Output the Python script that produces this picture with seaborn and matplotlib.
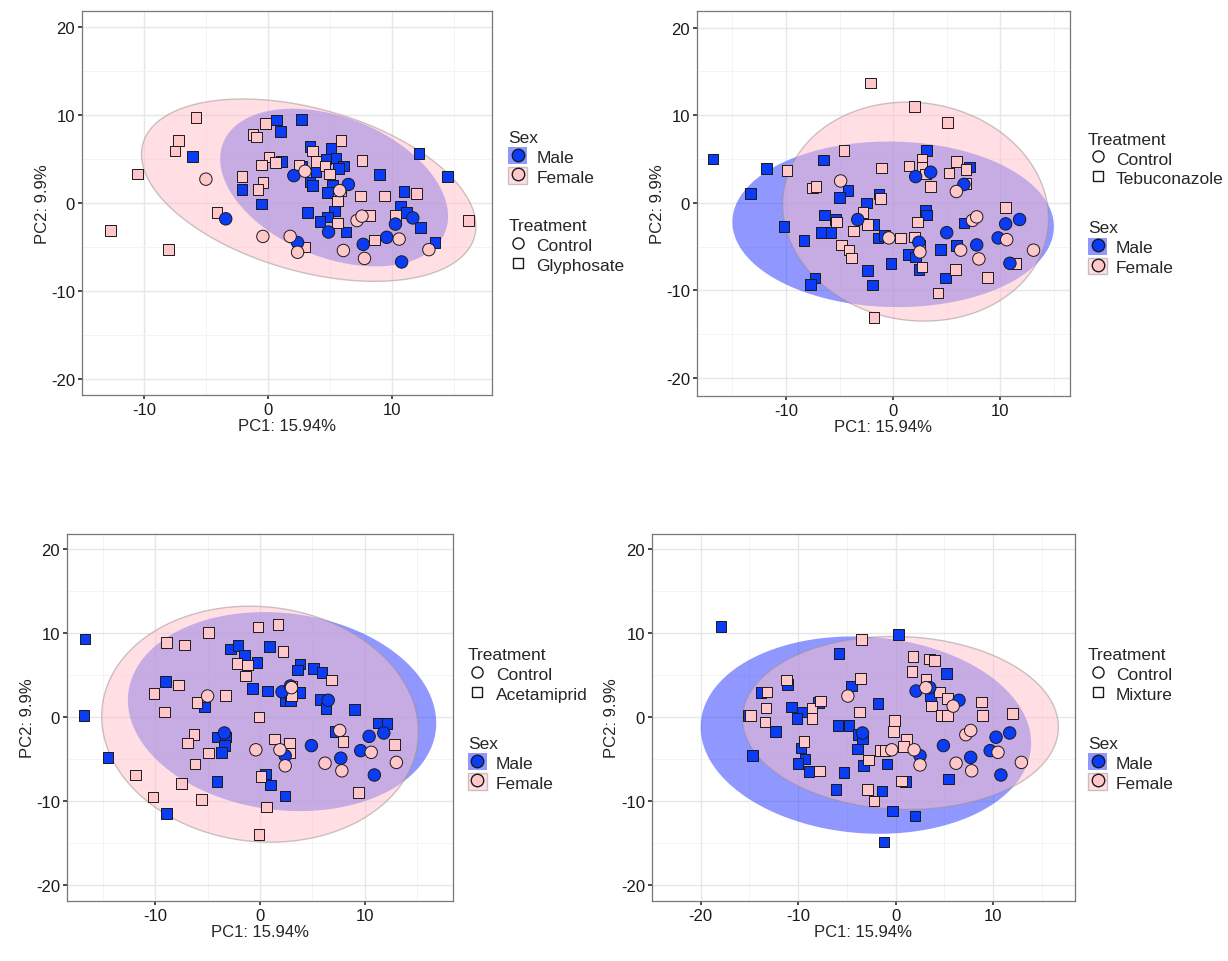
import numpy as np
import pandas as pd
import matplotlib
matplotlib.use("Agg")
import matplotlib.pyplot as plt
import seaborn as sns
from matplotlib.lines import Line2D
from matplotlib.patches import Patch, Polygon

# ---- data: PCA scores (x = PC1, y = PC2) ----
# panel 1: Glyphosate
gly_male_ctrl = [(2.1, 3.1), (6.5, 2.1), (-3.4, -1.8), (4.9, -3.3), (2.4, -4.5), (7.7, -4.7),
                 (9.6, -3.9), (10.3, -2.4), (11.7, -1.7), (10.8, -6.7)]
gly_male_trt = [(0.7, 9.4), (2.7, 9.5), (1.0, 8.1), (-6.1, 5.3), (3.4, 6.4), (5.1, 6.2), (1.1, 4.7),
                (2.7, 4.2), (4.7, 5.0), (5.5, 5.1), (6.1, 4.2), (5.7, 3.9), (3.9, 3.6), (3.4, 2.4),
                (3.6, 2.0), (5.2, 2.0), (4.8, 1.2), (-2.1, 1.5), (-0.5, -0.1), (9.0, 3.2), (12.2, 5.6),
                (14.5, 3.0), (11.0, 1.3), (3.2, -1.1), (5.4, -0.9), (4.8, -1.6), (4.2, -2.1),
                (6.3, -3.3), (10.7, -0.4), (11.2, -1.1), (12.3, -2.8), (13.5, -4.5)]
gly_fem_ctrl = [(-5.0, 2.7), (3.0, 3.6), (5.8, 1.4), (7.2, -2.0), (7.6, -1.5), (-0.4, -3.8),
                (1.8, -3.8), (2.4, -5.6), (6.1, -5.4), (7.8, -6.3), (10.6, -4.1), (13.0, -5.3)]
gly_fem_trt = [(-5.8, 9.7), (-0.2, 9.0), (-7.2, 7.1), (-7.5, 5.9), (-1.2, 7.8), (-0.9, 7.5), (5.9, 7.1),
               (3.6, 5.9), (-10.5, 3.3), (0.1, 5.2), (-0.5, 4.3), (0.6, 4.6), (2.5, 4.3), (3.9, 4.7),
               (4.6, 4.2), (-2.1, 3.0), (-0.4, 2.3), (-0.8, 1.5), (5.0, 3.3), (7.6, 4.8), (5.9, 1.4),
               (5.6, 0.2), (7.5, 0.8), (9.4, 0.8), (12.0, 1.1), (-4.1, -1.1), (8.2, -1.4), (10.3, -1.4),
               (5.6, -2.3), (16.2, -2.0), (-12.7, -3.1), (-8.0, -5.3), (3.0, -5.0), (8.6, -4.2)]

# panel 2: Tebuconazole
teb_male_ctrl = [(2.1, 3.0), (3.5, 3.5), (6.6, 2.1), (-3.3, -1.9), (5.0, -3.4), (7.8, -4.8),
                 (9.8, -4.0), (10.5, -2.4), (11.8, -1.9), (10.9, -6.9), (2.4, -4.5)]
teb_male_trt = [(-16.8, 5.0), (-11.8, 3.9), (-13.3, 1.1), (-6.5, 4.9), (3.1, 6.0), (7.1, 4.1), (-4.2, 1.4),
                (-5.0, 0.6), (-1.3, 1.0), (-2.5, 0.0), (-6.4, -1.4), (-5.4, -1.9), (-10.2, -2.7),
                (-6.7, -3.4), (-5.8, -3.4), (-8.3, -4.3), (-1.8, -2.5), (-1.4, -4.0), (-0.8, -3.7),
                (3.0, -0.9), (3.1, -1.4), (6.6, -2.3), (5.9, -4.9), (4.4, -5.3), (1.4, -5.9), (2.1, -6.2),
                (2.4, -7.6), (-0.2, -6.9), (-2.4, -7.7), (-1.9, -9.4), (-7.3, -8.6), (-7.7, -9.3),
                (4.9, -8.6)]
teb_fem_ctrl = [(-4.9, 2.5), (5.9, 1.3), (7.4, -2.0), (7.8, -1.6), (-0.4, -4.0), (6.3, -5.4),
                (8.0, -6.4), (10.6, -4.2), (13.1, -5.4), (2.5, -5.6)]
teb_fem_trt = [(-2.1, 13.7), (2.0, 11.0), (5.1, 9.2), (-4.6, 6.0), (-9.9, 3.7), (-1.1, 4.0), (1.5, 4.2),
               (2.7, 5.0), (2.7, 4.1), (3.0, 3.3), (3.5, 1.9), (5.2, 3.4), (5.9, 4.7), (6.8, 3.8),
               (6.8, 2.2), (-7.5, 1.7), (-7.2, 1.9), (-1.2, 0.5), (-2.8, -1.1), (-5.3, -2.2), (-3.7, -3.2),
               (-2.4, -2.5), (2.3, -2.2), (0.7, -4.0), (2.0, -3.9), (2.5, -4.9), (-4.8, -4.8),
               (-4.1, -5.4), (-3.9, -6.3), (10.5, -0.5), (11.4, -6.9), (2.7, -7.3), (5.8, -7.6),
               (8.8, -8.5), (4.2, -10.3), (-1.8, -13.1)]

# panel 3: Acetamiprid
ace_male_ctrl = [(-3.4, -1.9), (2.1, 3.0), (2.9, 3.7), (6.5, 2.0), (2.4, -4.6), (4.9, -3.4),
                 (7.7, -4.9), (9.6, -4.0), (10.4, -2.3), (11.8, -1.9), (10.9, -6.9)]
ace_male_trt = [(-16.7, 9.3), (-16.8, 0.2), (-14.5, -4.8), (-8.9, -11.5), (-2.8, 8.1), (-2.1, 8.5),
                (-1.5, 7.4), (0.9, 8.4), (-0.3, 6.5), (3.8, 6.3), (3.6, 5.6), (5.1, 5.8), (5.9, 5.3),
                (-9.0, 4.2), (-0.7, 3.4), (0.7, 3.1), (3.8, 2.9), (2.4, 1.9), (2.9, 1.9), (5.7, 2.1),
                (6.3, 1.0), (9.0, 0.9), (-5.3, 1.2), (-4.1, -2.4), (-3.3, -2.4), (-3.4, -3.4),
                (-3.7, -4.2), (7.2, -1.7), (11.3, -0.7), (12.1, -0.8), (-4.1, -7.7), (0.5, -6.8),
                (1.0, -8.1), (2.4, -9.4)]
ace_fem_ctrl = [(-5.0, 2.5), (3.0, 3.5), (7.6, -1.6), (-0.4, -3.9), (1.9, -3.9), (2.4, -5.8),
                (6.2, -5.5), (7.8, -6.4), (10.6, -4.2), (13.0, -5.4)]
ace_fem_trt = [(-4.9, 10.1), (-0.2, 10.7), (1.7, 11.0), (-8.9, 8.9), (-7.2, 8.6), (2.2, 7.8), (-2.2, 6.4),
               (-1.2, 6.2), (-1.4, 4.9), (6.8, 4.4), (-7.8, 3.8), (-10.1, 2.8), (-3.3, 2.6), (-6.0, 1.7),
               (-9.1, 0.6), (3.0, 3.7), (3.0, 2.5), (-0.1, 0.0), (-6.3, -2.1), (-6.9, -3.1), (1.4, -2.6),
               (2.8, -3.1), (2.8, -4.3), (7.9, -2.9), (12.8, -3.3), (-4.9, -4.3), (-6.2, -5.6),
               (-11.9, -6.9), (-7.5, -7.9), (-10.2, -9.5), (-5.6, -9.8), (0.1, -7.1), (0.6, -10.7),
               (9.4, -9.0), (-0.1, -14.0)]

# panel 4: Mixture
mix_male_ctrl = [(2.1, 3.1), (3.5, 3.5), (6.5, 2.0), (-3.4, -1.9), (2.5, -4.6), (4.9, -3.4),
                 (7.7, -4.8), (9.7, -4.0), (10.3, -2.4), (11.7, -1.9), (10.8, -6.9)]
mix_male_trt = [(-17.9, 10.8), (0.3, 9.8), (-5.8, 7.6), (5.2, 5.2), (-11.1, 3.9), (-13.8, 2.9), (-4.5, 3.7),
                (-15.1, 0.2), (-10.7, 1.2), (-9.6, 0.6), (-10.1, -0.2), (-7.9, 1.7), (-12.3, -1.7),
                (-1.8, 1.6), (-5.9, -1.0), (-4.8, -1.0), (-3.8, -2.1), (-3.4, -2.6), (3.6, 2.5),
                (-3.9, -3.8), (-9.7, -3.7), (-9.3, -5.0), (-10.0, -5.5), (-8.9, -6.5), (-5.3, -6.6),
                (-3.3, -5.8), (-0.9, -5.6), (1.0, -7.7), (-14.7, -4.6), (-6.1, -8.6), (-1.4, -8.8),
                (-0.3, -11.2), (2.0, -11.8), (5.4, -7.4), (-1.2, -14.9)]
mix_fem_ctrl = [(-4.9, 2.5), (3.1, 3.5), (5.9, 1.3), (7.2, -2.1), (7.7, -1.6), (-0.4, -3.9), (1.9, -3.9),
                (2.5, -5.7), (6.2, -5.5), (7.8, -6.4), (10.5, -4.2), (12.9, -5.4)]
mix_fem_trt = [(-3.5, 9.2), (1.8, 7.2), (3.5, 6.9), (4.0, 6.7), (1.7, 5.4), (3.1, 4.5), (-3.6, 4.6),
               (-11.2, 4.4), (-13.2, 3.0), (-13.3, 1.1), (-13.4, -0.6), (-14.9, 0.2), (-8.6, 1.1),
               (-8.6, -0.2), (-7.7, 1.9), (-3.7, 0.6), (4.5, 3.0), (5.3, 2.2), (3.7, 1.3), (4.7, 0.2),
               (5.3, 0.2), (8.8, 1.8), (8.9, 0.2), (12.0, 0.4), (-0.1, -0.4), (-0.2, -1.7), (1.1, -2.7),
               (0.8, -3.5), (-1.6, -4.0), (-1.1, -4.0), (-9.4, -2.9), (-7.8, -6.4), (-2.8, -5.1),
               (0.6, -7.6), (-2.9, -8.6), (-2.2, -10.0)]

treatments = ["Glyphosate", "Tebuconazole", "Acetamiprid", "Mixture"]
panel_points = [
    (gly_male_ctrl, gly_male_trt, gly_fem_ctrl, gly_fem_trt),
    (teb_male_ctrl, teb_male_trt, teb_fem_ctrl, teb_fem_trt),
    (ace_male_ctrl, ace_male_trt, ace_fem_ctrl, ace_fem_trt),
    (mix_male_ctrl, mix_male_trt, mix_fem_ctrl, mix_fem_trt),
]
# confidence ellipses per sex: centre x, centre y, half-width, half-height, covariance term
male_ellipses = [(5.35, 1.75, 9.2, 8.95, -30), (0.0, -2.45, 15.0, 9.45, -4),
                 (2.1, 0.65, 14.7, 11.85, -20), (-3.05, -2.15, 16.95, 11.75, -16)]
female_ellipses = [(3.3, 1.45, 13.5, 10.35, -55), (2.1, -1.0, 12.4, 12.5, -10),
                   (0.0, -0.85, 15.1, 14.05, -14), (0.5, -0.7, 16.2, 10.3, -8)]

axes_rects = [[0.0668, 0.5884, 0.3339, 0.3992], [0.5676, 0.5873, 0.3037, 0.4002],
              [0.0546, 0.0624, 0.3143, 0.3815], [0.5309, 0.0624, 0.3445, 0.3815]]
xlims = [(-14.2, 18.1), (-18.3, 16.5), (-18.4, 18.4), (-21.9, 18.4)]
ylims = [(-21.8, 21.8), (-22.05, 21.9), (-21.9, 21.8), (-21.9, 21.8)]
xticks = [[-10, 0, 10], [-10, 0, 10], [-10, 0, 10], [-20, -10, 0, 10]]
legend_x = [0.414, 0.886, 0.381, 0.886]
legend_y = [0.864, 0.862, 0.326, 0.326]
sex_first = [True, False, False, False]

BLUE = "#0A3CF5"
PINK = "#FFC7C9"
ELL_BLUE = "#2233FF"
ELL_PINK = "#FFC0CB"

sns.set_theme(style="white")
plt.rcParams['font.family'] = ['Liberation Sans', 'DejaVu Sans']
plt.rcParams['axes.unicode_minus'] = False

fig = plt.figure(figsize=(12.28, 9.62), dpi=100)


def ellipse_poly(cx, cy, hx, hy, sxy, n=200):
    cov = np.array([[hx ** 2, sxy], [sxy, hy ** 2]])
    vals, vecs = np.linalg.eigh(cov)
    t = np.linspace(0, 2 * np.pi, n)
    circ = np.vstack([np.cos(t), np.sin(t)])
    pts = vecs @ (np.sqrt(vals)[:, None] * circ)
    return np.column_stack([pts[0] + cx, pts[1] + cy])


for i, trt in enumerate(treatments):
    ax = fig.add_axes(axes_rects[i])
    mc, mt, fc, ft = panel_points[i]
    rows = []
    for pts, sex, tr in [(mt, "Male", trt), (ft, "Female", trt), (mc, "Male", "Control"), (fc, "Female", "Control")]:
        for x, y in pts:
            rows.append({"PC1": x, "PC2": y, "Sex": sex, "Treatment": tr})
    df = pd.DataFrame(rows)

    ax.add_patch(Polygon(ellipse_poly(*male_ellipses[i]), closed=True, facecolor=ELL_BLUE,
                         alpha=0.5, edgecolor="none", zorder=1))
    ax.add_patch(Polygon(ellipse_poly(*female_ellipses[i]), closed=True, facecolor=ELL_PINK,
                         alpha=0.5, edgecolor="#9a8f8f", linewidth=1.0, zorder=1.1))

    sns.scatterplot(data=df[df.Treatment == trt], x="PC1", y="PC2", hue="Sex",
                    palette={"Male": BLUE, "Female": PINK}, marker="s", s=58,
                    edgecolor="#1a1a1a", linewidth=0.7, legend=False, ax=ax, zorder=3)
    sns.scatterplot(data=df[df.Treatment == "Control"], x="PC1", y="PC2", hue="Sex",
                    palette={"Male": BLUE, "Female": PINK}, marker="o", s=80,
                    edgecolor="#1a1a1a", linewidth=0.7, legend=False, ax=ax, zorder=3)

    ax.set_xlim(*xlims[i])
    ax.set_ylim(*ylims[i])
    ax.set_xticks(xticks[i])
    ax.set_yticks([-20, -10, 0, 10, 20])
    ax.set_xticks([t + 5 for t in xticks[i]] + [xticks[i][0] - 5], minor=True)
    ax.set_yticks([-15, -5, 5, 15], minor=True)
    ax.grid(True, which="major", color="#e6e6e6", linewidth=1.0, zorder=0)
    ax.grid(True, which="minor", color="#f2f2f2", linewidth=0.6, zorder=0)
    ax.set_axisbelow(True)
    for sp in ax.spines.values():
        sp.set_color("#777777")
        sp.set_linewidth(0.9)
    ax.tick_params(axis="both", which="major", labelsize=12, length=3, color="#333333",
                   left=True, bottom=True, pad=2, labelcolor="#1a1a1a")
    ax.tick_params(which="minor", length=0)
    ax.set_xlabel("PC1: 15.94%", fontsize=12, labelpad=1)
    ax.set_ylabel("PC2: 9.9%", fontsize=12, labelpad=1)

    sex_handles = [
        (Patch(facecolor=ELL_BLUE, alpha=0.5, edgecolor="none"),
         Line2D([], [], marker="o", linestyle="", markersize=9, markerfacecolor=BLUE, markeredgecolor="#1a1a1a")),
        (Patch(facecolor=ELL_PINK, alpha=0.5, edgecolor="#9a8f8f"),
         Line2D([], [], marker="o", linestyle="", markersize=9, markerfacecolor=PINK, markeredgecolor="#1a1a1a")),
    ]
    trt_handles = [
        Line2D([], [], marker="o", linestyle="", markersize=8, markerfacecolor="white", markeredgecolor="#1a1a1a"),
        Line2D([], [], marker="s", linestyle="", markersize=7, markerfacecolor="white", markeredgecolor="#1a1a1a"),
    ]
    groups = [("Sex", sex_handles, ["Male", "Female"]), ("Treatment", trt_handles, ["Control", trt])]
    if not sex_first[i]:
        groups = groups[::-1]
    y0 = legend_y[i]
    for title, handles, labels in groups:
        leg = fig.legend(handles, labels, title=title, loc="upper left",
                         bbox_to_anchor=(legend_x[i], y0), frameon=False, fontsize=12.5,
                         title_fontsize=12.5, handlelength=1.1, handleheight=1.1,
                         handletextpad=0.5, labelspacing=0.15, borderaxespad=0, borderpad=0)
        leg._legend_box.align = "left"
        y0 -= 0.092

fig.savefig("out.png", dpi=100)
